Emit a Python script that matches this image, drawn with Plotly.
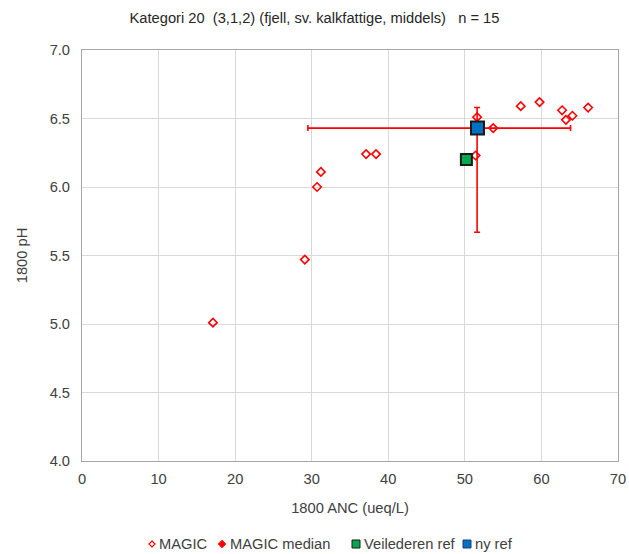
import plotly.graph_objects as go

magic_anc = [17.1, 29.1, 30.7, 31.2, 37.1, 38.4, 51.6, 53.7, 51.4, 57.3, 59.75, 62.7, 63.2, 64.05, 66.1]
magic_ph = [5.01, 5.47, 6.00, 6.11, 6.24, 6.24, 6.51, 6.43, 6.23, 6.59, 6.62, 6.56, 6.49, 6.52, 6.58]

median_anc = [51.6]
median_ph = [6.43]
median_anc_plus = [12.2]
median_anc_minus = [22.1]
median_ph_plus = [0.15]
median_ph_minus = [0.76]

veil_anc = [50.2]
veil_ph = [6.20]

ny_anc = [51.65]
ny_ph = [6.43]

legend_names = ["MAGIC", "MAGIC median", "Veilederen ref", "ny ref"]

red = "#FF0000"
green = "#00A94F"
blue = "#0070C0"
FS = 14.7
fig = go.Figure()
fig.add_trace(go.Scatter(x=magic_anc, y=magic_ph, mode="markers", name=legend_names[0],
                         marker=dict(symbol="diamond-open", size=6.5, color=red, line=dict(width=1.6, color=red))))
fig.add_trace(go.Scatter(x=median_anc, y=median_ph, mode="markers", name=legend_names[1],
                         marker=dict(symbol="diamond", size=7, color=red),
                         error_x=dict(type="data", symmetric=False, array=median_anc_plus, arrayminus=median_anc_minus,
                                      color=red, thickness=1.6, width=3),
                         error_y=dict(type="data", symmetric=False, array=median_ph_plus, arrayminus=median_ph_minus,
                                      color=red, thickness=1.6, width=3)))
fig.add_trace(go.Scatter(x=veil_anc, y=veil_ph, mode="markers", name=legend_names[2],
                         marker=dict(symbol="square", size=11, color=green, line=dict(width=2, color="#1a1a1a"))))
fig.add_trace(go.Scatter(x=ny_anc, y=ny_ph, mode="markers", name=legend_names[3],
                         marker=dict(symbol="square", size=13, color=blue, line=dict(width=2, color="#1a1a1a"))))

# manual legend (paper coordinates; plot area is 82..618 x 50..461 px)
L, R, T, B = 82, 618, 50, 461
def px(x):
    return (x - L) / (R - L)
def py(y):
    return (B - y) / (B - T)

ly = 544
legend_items = [
    (152, 157, "diamond_open"),
    (222, 228, "diamond"),
    (356, 362, "sq_green"),
    (467, 473, "sq_blue"),
]
shapes = []
for (sx, tx, kind), name in zip(legend_items, legend_names):
    if kind.startswith("diamond"):
        h = 3.5 if kind == "diamond" else 3
        path = (f"M {px(sx)},{py(ly - h)} L {px(sx + h)},{py(ly)} "
                f"L {px(sx)},{py(ly + h)} L {px(sx - h)},{py(ly)} Z")
        shapes.append(dict(type="path", xref="paper", yref="paper", path=path,
                           line=dict(color=red, width=1.2),
                           fillcolor=(red if kind == "diamond" else "white")))
    else:
        col = green if kind == "sq_green" else blue
        shapes.append(dict(type="rect", xref="paper", yref="paper",
                           x0=px(sx - 4), x1=px(sx + 4), y0=py(ly + 4), y1=py(ly - 4),
                           line=dict(color="#1a1a1a" if kind == "sq_green" else "#1f3f6e", width=1),
                           fillcolor=col))
    fig.add_annotation(x=px(tx), y=py(ly), xref="paper", yref="paper", text=name,
                       showarrow=False, xanchor="left", yanchor="middle",
                       font=dict(size=FS, color="#404040"))

fig.update_layout(
    width=629, height=554,
    margin=dict(l=82, r=11, t=50, b=93),
    paper_bgcolor="white", plot_bgcolor="white",
    font=dict(family="Liberation Sans, Arial, sans-serif", size=FS, color="#404040"),
    title=dict(text="Kategori 20  (3,1,2) (fjell, sv. kalkfattige, middels)   n = 15",
               x=0.5, xanchor="center", y=0.967, yanchor="middle", font=dict(size=FS, color="#262626")),
    showlegend=False,
    shapes=shapes,
)
fig.update_xaxes(range=[0, 70], dtick=10, showgrid=True, gridcolor="#D9D9D9", gridwidth=1,
                 showline=True, linecolor="#A6A6A6", mirror=True, zeroline=False, automargin=False,
                 title=dict(text="1800 ANC (ueq/L)", standoff=17, font=dict(size=FS, color="#404040")),
                 ticks="", ticklabelstandoff=4, tickfont=dict(size=FS, color="#404040"))
fig.update_yaxes(range=[4, 7], dtick=0.5, tickformat=".1f", showgrid=True, gridcolor="#D9D9D9", gridwidth=1,
                 showline=True, linecolor="#A6A6A6", mirror=True, zeroline=False, automargin=False,
                 title=dict(text="1800 pH", standoff=18, font=dict(size=FS, color="#404040")),
                 ticks="", ticklabelstandoff=8, tickfont=dict(size=FS, color="#404040"))

fig.write_html("out.html")
